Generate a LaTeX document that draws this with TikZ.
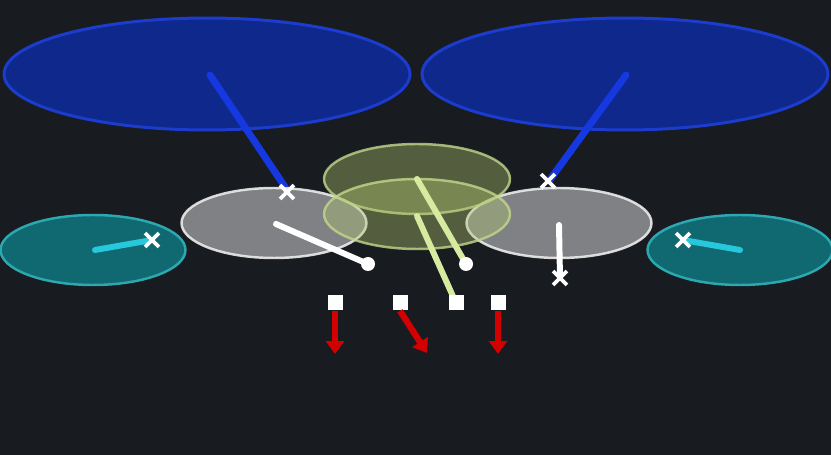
\documentclass[tikz,border=0pt]{standalone}
\usetikzlibrary{shapes.geometric,shapes.misc,arrows.meta}
\definecolor{bgdark}{RGB}{24,27,32}
\definecolor{bluefill}{RGB}{14,40,140}
\definecolor{blueedge}{RGB}{28,60,205}
\definecolor{blueline}{RGB}{22,56,225}
\definecolor{tealfill}{RGB}{16,104,112}
\definecolor{tealedge}{RGB}{44,168,176}
\definecolor{cyanline}{RGB}{40,200,220}
\definecolor{olivefill}{RGB}{175,195,110}
\definecolor{oliveedge}{RGB}{195,215,140}
\definecolor{oliveline}{RGB}{215,235,160}
\definecolor{redarrow}{RGB}{210,0,0}
\begin{document}
\begin{tikzpicture}[
    x=0.02cm, y=-0.02cm,
    bigell/.style={ellipse, inner sep=0pt, minimum width=8.12cm, minimum height=2.24cm, fill=bluefill, draw=blueedge, line width=1.7pt},
    sideell/.style={ellipse, inner sep=0pt, minimum width=3.7cm, minimum height=1.4cm, fill=tealfill, draw=tealedge, line width=1.4pt},
    grayell/.style={ellipse, inner sep=0pt, minimum width=3.7cm, minimum height=1.4cm, fill=white, fill opacity=0.45, draw=white!85!gray, draw opacity=0.9, line width=1.4pt},
    oliveell/.style={ellipse, inner sep=0pt, minimum width=3.72cm, minimum height=1.4cm, fill=olivefill, fill opacity=0.4, draw=oliveedge, draw opacity=0.8, line width=1.4pt},
    xmark/.style={cross out, draw=white, line width=2.2pt, minimum size=0.2cm, inner sep=0pt},
    dotmark/.style={circle, fill=white, minimum size=0.28cm, inner sep=0pt},
    sqmark/.style={rectangle, fill=white, minimum size=0.3cm, inner sep=0pt},
    limb/.style={line width=3.4pt, line cap=round},
    push/.style={-{Triangle[length=0.26cm, width=0.36cm]}, redarrow, line width=3.6pt}
]
    \fill[bgdark] (0,0) rectangle (831,455);
    \useasboundingbox (0,0) rectangle (831,455);

    % upper ellipses
    \node[bigell] (bigL) at (207,74) {};
    \node[bigell] (bigR) at (625,74) {};
    \coordinate (bigLend) at (287,190);
    \coordinate (bigRend) at (549,181);
    \draw[limb, blueline, line width=4pt] (210,75) -- (bigLend);
    \draw[limb, blueline, line width=4pt] (626,75) -- (bigRend);

    % side ellipses
    \node[sideell] (sideL) at (93,250) {};
    \node[sideell] (sideR) at (740,250) {};

    % middle ellipses
    \node[grayell] (midL) at (274,223) {};
    \node[grayell] (midR) at (559,223) {};
    \node[oliveell] (topC) at (417,179) {};
    \node[oliveell] (lowC) at (417,214) {};

    % markers
    \node[xmark] (xA) at (287,192) {};
    \node[xmark] (xB) at (548,181) {};
    \coordinate (xC) at (152,240);
    \coordinate (xD) at (683,240);
    \coordinate (xE) at (560,278);
    \coordinate (dA) at (368,264);
    \coordinate (dB) at (466,264);
    \coordinate (sC) at (456,303);
    \node[sqmark] (sA) at (335,303) {};
    \node[sqmark] (sB) at (400,303) {};
    \node[sqmark] (sD) at (498,303) {};

    % limbs
    \draw[limb, cyanline] (95,250) -- (xC);
    \draw[limb, cyanline] (740,250) -- (xD);
    \draw[limb, white] (276,224) -- (dA);
    \draw[limb, white] (559,225) -- (xE);
    \draw[limb, oliveline] (topC.center) -- (dB);
    \draw[limb, oliveline] (417,216) -- (sC);
    \node[dotmark] at (dA) {};
    \node[dotmark] at (dB) {};
    \node[sqmark] at (sC) {};
    \node[xmark] at (xE) {};
    \node[xmark] at (xC) {};
    \node[xmark] at (xD) {};

    % forces
    \coordinate (fA) at (335,354);
    \coordinate (fB) at (427,353);
    \coordinate (fD) at (498,354);
    \draw[push] (sA.south) -- (fA);
    \draw[push] (sB.south) -- (fB);
    \draw[push] (sD.south) -- (fD);
\end{tikzpicture}
\end{document}
